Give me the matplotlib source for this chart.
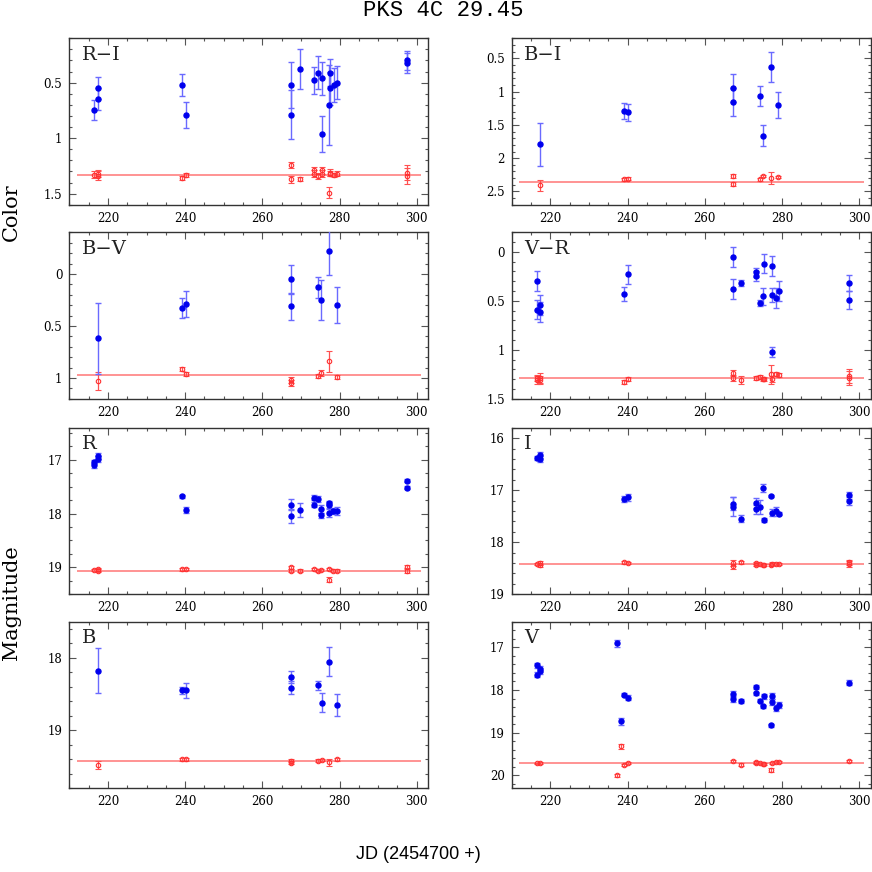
import numpy as np
import matplotlib
matplotlib.use('Agg')
import matplotlib.pyplot as plt
from matplotlib.ticker import MultipleLocator, FuncFormatter

# blazar (blue) and comparison star (red) values, JD - 2454700
ri_jd = [216.3, 217.4, 217.4, 239.2, 240.2, 267.5, 267.5, 269.7, 273.5, 274.5, 275.5, 275.5, 277.4, 277.5, 277.5, 278.5, 279.3, 297.6, 297.6]
ri_val = [0.75, 0.65, 0.55, 0.52, 0.79, 0.52, 0.79, 0.38, 0.48, 0.41, 0.46, 0.96, 0.70, 0.41, 0.55, 0.52, 0.50, 0.30, 0.32]
ri_err = [0.09, 0.1, 0.1, 0.1, 0.12, 0.21, 0.22, 0.18, 0.12, 0.15, 0.15, 0.16, 0.36, 0.12, 0.15, 0.15, 0.15, 0.09, 0.09]
ri_cjd = [216.3, 217.4, 217.4, 239.2, 240.2, 267.5, 267.5, 269.7, 273.5, 273.5, 274.5, 275.5, 275.5, 277.4, 277.5, 277.5, 278.5, 279.3, 297.6, 297.6]
ri_cval = [1.33, 1.32, 1.34, 1.36, 1.33, 1.24, 1.37, 1.37, 1.29, 1.32, 1.34, 1.29, 1.32, 1.49, 1.31, 1.32, 1.33, 1.32, 1.31, 1.34]
ri_cerr = [0.03, 0.03, 0.04, 0.02, 0.02, 0.03, 0.03, 0.02, 0.03, 0.03, 0.03, 0.03, 0.03, 0.05, 0.03, 0.02, 0.02, 0.02, 0.07, 0.07]
ri_mean = 1.332

bi_jd = [217.4, 239.1, 240.2, 267.3, 267.3, 274.4, 275.1, 277.2, 279.1]
bi_val = [1.79, 1.29, 1.31, 0.95, 1.15, 1.06, 1.66, 0.63, 1.20]
bi_err = [0.32, 0.12, 0.13, 0.21, 0.21, 0.15, 0.16, 0.23, 0.19]
bi_cjd = [217.4, 239.1, 240.2, 267.3, 267.3, 274.4, 275.1, 277.2, 279.1]
bi_cval = [2.41, 2.32, 2.31, 2.27, 2.39, 2.32, 2.27, 2.30, 2.285]
bi_cerr = [0.08, 0.02, 0.02, 0.03, 0.03, 0.02, 0.02, 0.09, 0.02]
bi_mean = 2.352

bv_jd = [217.4, 239.1, 240.2, 267.5, 267.5, 274.4, 275.3, 277.4, 279.3]
bv_val = [0.62, 0.33, 0.29, 0.05, 0.31, 0.13, 0.25, -0.22, 0.30]
bv_err = [0.34, 0.095, 0.125, 0.14, 0.13, 0.1, 0.19, 0.23, 0.17]
bv_cjd = [217.4, 239.1, 240.2, 267.5, 267.5, 274.4, 275.3, 277.4, 279.3]
bv_cval = [1.03, 0.91, 0.96, 1.02, 1.05, 0.98, 0.95, 0.84, 0.99]
bv_cerr = [0.09, 0.02, 0.02, 0.03, 0.03, 0.02, 0.03, 0.1, 0.02]
bv_mean = 0.975

vr_jd = [216.5, 216.5, 217.4, 217.4, 239.1, 240.2, 267.3, 267.3, 269.5, 273.4, 273.4, 274.4, 275.1, 275.3, 277.4, 277.4, 277.4, 278.4, 279.2, 297.4, 297.4]
vr_val = [0.30, 0.59, 0.545, 0.615, 0.43, 0.23, 0.05, 0.38, 0.32, 0.21, 0.25, 0.52, 0.455, 0.12, 0.145, 0.44, 1.02, 0.47, 0.40, 0.32, 0.49]
vr_err = [0.1, 0.1, 0.1, 0.1, 0.07, 0.1, 0.1, 0.1, 0.03, 0.05, 0.05, 0.03, 0.09, 0.1, 0.1, 0.07, 0.05, 0.1, 0.1, 0.08, 0.09]
vr_cjd = [216.5, 216.5, 217.4, 217.4, 239.1, 240.2, 267.3, 267.3, 269.5, 273.4, 274.4, 275.1, 275.3, 277.2, 277.4, 278.4, 279.2, 297.4, 297.4]
vr_cval = [1.29, 1.31, 1.29, 1.31, 1.33, 1.30, 1.24, 1.29, 1.31, 1.29, 1.28, 1.30, 1.30, 1.25, 1.30, 1.245, 1.255, 1.27, 1.29]
vr_cerr = [0.03, 0.04, 0.05, 0.04, 0.02, 0.02, 0.03, 0.03, 0.04, 0.02, 0.02, 0.02, 0.02, 0.1, 0.03, 0.02, 0.02, 0.07, 0.07]
vr_mean = 1.289

r_jd = [216.5, 216.5, 217.4, 217.4, 239.1, 240.2, 267.5, 267.5, 269.7, 273.5, 273.5, 274.4, 275.3, 275.3, 277.4, 277.4, 277.4, 278.3, 279.3, 297.6, 297.6]
r_val = [17.04, 17.10, 16.93, 16.98, 17.68, 17.93, 17.83, 18.04, 17.93, 17.70, 17.83, 17.73, 17.91, 18.03, 17.80, 17.84, 17.99, 17.95, 17.95, 17.39, 17.52]
r_err = [0.04, 0.05, 0.05, 0.05, 0.03, 0.06, 0.1, 0.13, 0.13, 0.05, 0.05, 0.05, 0.08, 0.05, 0.04, 0.05, 0.07, 0.06, 0.08, 0.03, 0.03]
r_cjd = [216.5, 217.4, 217.4, 239.1, 240.2, 267.5, 267.5, 269.7, 273.5, 274.4, 275.3, 277.4, 277.4, 278.3, 279.3, 297.6, 297.6]
r_cval = [19.05, 19.04, 19.06, 19.04, 19.03, 19.0, 19.06, 19.06, 19.03, 19.07, 19.05, 19.03, 19.23, 19.06, 19.06, 19.0, 19.06]
r_cerr = [0.02, 0.03, 0.03, 0.02, 0.02, 0.03, 0.03, 0.02, 0.02, 0.02, 0.02, 0.02, 0.05, 0.02, 0.02, 0.04, 0.04]
r_mean = 19.06

i_jd = [216.5, 217.4, 217.4, 239.1, 240.2, 267.3, 267.3, 269.5, 273.4, 273.4, 274.4, 275.1, 275.3, 277.2, 277.4, 278.4, 279.2, 297.4, 297.4]
i_val = [16.38, 16.40, 16.33, 17.17, 17.14, 17.26, 17.32, 17.55, 17.25, 17.37, 17.32, 16.96, 17.58, 17.12, 17.43, 17.41, 17.45, 17.10, 17.21]
i_err = [0.04, 0.06, 0.06, 0.06, 0.06, 0.13, 0.18, 0.07, 0.1, 0.08, 0.13, 0.07, 0.04, 0.02, 0.06, 0.08, 0.03, 0.07, 0.07]
i_cjd = [216.5, 217.4, 217.4, 239.1, 240.2, 267.3, 267.3, 269.5, 273.4, 273.4, 274.4, 275.1, 275.3, 277.2, 277.4, 278.4, 279.2, 297.4, 297.4]
i_cval = [18.42, 18.40, 18.44, 18.39, 18.40, 18.40, 18.46, 18.39, 18.40, 18.44, 18.42, 18.43, 18.44, 18.44, 18.41, 18.42, 18.42, 18.39, 18.42]
i_cerr = [0.02, 0.03, 0.03, 0.02, 0.02, 0.05, 0.05, 0.02, 0.02, 0.02, 0.02, 0.02, 0.02, 0.02, 0.02, 0.02, 0.02, 0.05, 0.05]
i_mean = 18.41

b_jd = [217.4, 239.2, 240.2, 267.5, 267.5, 274.5, 275.4, 277.4, 279.3]
b_val = [18.18, 18.45, 18.45, 18.26, 18.41, 18.38, 18.62, 18.05, 18.65]
b_err = [0.31, 0.05, 0.1, 0.08, 0.09, 0.06, 0.13, 0.2, 0.15]
b_cjd = [217.4, 239.2, 240.2, 267.5, 267.5, 274.5, 275.4, 277.4, 279.3]
b_cval = [19.48, 19.40, 19.40, 19.42, 19.45, 19.42, 19.41, 19.44, 19.40]
b_cerr = [0.05, 0.02, 0.02, 0.02, 0.02, 0.02, 0.02, 0.05, 0.02]
b_mean = 19.43

v_jd = [216.5, 216.5, 217.4, 217.4, 237.4, 238.4, 239.1, 240.2, 267.3, 267.3, 269.5, 273.4, 273.4, 274.4, 275.1, 275.3, 277.2, 277.4, 277.4, 278.4, 279.2, 297.4]
v_val = [17.42, 17.64, 17.51, 17.56, 16.91, 18.73, 18.11, 18.18, 18.09, 18.21, 18.25, 17.93, 18.08, 18.25, 18.38, 18.15, 18.83, 18.14, 18.28, 18.42, 18.35, 17.83]
v_err = [0.06, 0.06, 0.07, 0.07, 0.08, 0.08, 0.04, 0.06, 0.07, 0.08, 0.05, 0.04, 0.04, 0.04, 0.04, 0.05, 0.03, 0.07, 0.07, 0.06, 0.07, 0.06]
v_cjd = [216.5, 217.4, 237.4, 238.4, 239.1, 240.2, 267.3, 269.5, 273.4, 273.4, 274.4, 275.1, 275.3, 277.2, 277.4, 278.4, 279.2, 297.4]
v_cval = [19.72, 19.71, 20.0, 19.32, 19.75, 19.71, 19.67, 19.75, 19.69, 19.72, 19.71, 19.73, 19.73, 19.87, 19.71, 19.68, 19.68, 19.66]
v_cerr = [0.02, 0.02, 0.03, 0.06, 0.02, 0.02, 0.02, 0.03, 0.02, 0.02, 0.02, 0.02, 0.02, 0.05, 0.02, 0.02, 0.02, 0.02]
v_mean = 19.71

# (label, data, y limits, major, minor, column, row)
panels = [
    ('R\u2212I', (ri_jd, ri_val, ri_err, ri_cjd, ri_cval, ri_cerr, ri_mean), (1.6, 0.1), 0.5, 0.1, 0, 0),
    ('B\u2212I', (bi_jd, bi_val, bi_err, bi_cjd, bi_cval, bi_cerr, bi_mean), (2.7, 0.2), 0.5, 0.1, 1, 0),
    ('B\u2212V', (bv_jd, bv_val, bv_err, bv_cjd, bv_cval, bv_cerr, bv_mean), (1.2, -0.4), 0.5, 0.1, 0, 1),
    ('V\u2212R', (vr_jd, vr_val, vr_err, vr_cjd, vr_cval, vr_cerr, vr_mean), (1.5, -0.2), 0.5, 0.1, 1, 1),
    ('R', (r_jd, r_val, r_err, r_cjd, r_cval, r_cerr, r_mean), (19.5, 16.4), 1, 0.25, 0, 2),
    ('I', (i_jd, i_val, i_err, i_cjd, i_cval, i_cerr, i_mean), (19.0, 15.8), 1, 0.2, 1, 2),
    ('B', (b_jd, b_val, b_err, b_cjd, b_cval, b_cerr, b_mean), (19.8, 17.5), 1, 0.2, 0, 3),
    ('V', (v_jd, v_val, v_err, v_cjd, v_cval, v_cerr, v_mean), (20.3, 16.4), 1, 0.2, 1, 3),
]

serif = 'DejaVu Serif'
fig = plt.figure(figsize=(8.72, 8.72), dpi=100)

lefts = [69.3 / 872, 511.7 / 872]
width = 359 / 872
tops = [38.3, 232.3, 427.7, 621.7]
height = 166.5 / 872

fmt = FuncFormatter(lambda v, p: '%g' % round(v, 3))

for label, d, ylim, major, minor, col, row in panels:
    jd, val, err, cjd, cval, cerr, mean = d
    ax = fig.add_axes([lefts[col], 1 - (tops[row] + 166.5) / 872, width, height])
    ax.hlines(mean, 212, 301.2, color='#ff6060', lw=1.2, alpha=0.8, zorder=1)
    ax.errorbar(cjd, cval, yerr=cerr, fmt='o', ms=3.2, mfc='none', mec='#ff3030', mew=0.8,
                ecolor='#ff5050', elinewidth=0.9, capsize=2, capthick=0.9, zorder=2)
    ax.errorbar(jd, val, yerr=err, fmt='o', ms=3.6, mfc='#0000ee', mec='#0000ee',
                ecolor='#6a6aff', elinewidth=1.0, capsize=2, capthick=1.0, zorder=3)
    ax.set_xlim(210, 303)
    ax.set_ylim(*ylim)
    ax.xaxis.set_major_locator(MultipleLocator(20))
    ax.xaxis.set_minor_locator(MultipleLocator(5))
    ax.yaxis.set_major_locator(MultipleLocator(major))
    ax.yaxis.set_minor_locator(MultipleLocator(minor))
    ax.yaxis.set_major_formatter(fmt)
    ax.tick_params(which='both', direction='in', top=True, right=True, color='#555555')
    ax.tick_params(which='major', length=5, width=0.8, labelsize=8.5, pad=5)
    ax.tick_params(which='minor', length=2.5, width=0.8)
    for t in ax.get_xticklabels() + ax.get_yticklabels():
        t.set_fontfamily(serif)
    for s in ax.spines.values():
        s.set_color('#333333')
        s.set_linewidth(1.0)
    ax.text(0.035, 0.955, label, transform=ax.transAxes, ha='left', va='top',
            fontsize=14, family=serif, color='#222222')

fig.text(443 / 872, 1 - 11 / 872, 'PKS 4C 29.45', ha='center', va='center',
         fontsize=16, family='Liberation Mono')
fig.text(11 / 872, 1 - 212 / 872, 'Color', rotation=90, ha='center', va='center',
         fontsize=15, family=serif)
fig.text(11 / 872, 1 - 603 / 872, 'Magnitude', rotation=90, ha='center', va='center',
         fontsize=15, family=serif)
fig.text(418 / 872, 1 - 854 / 872, 'JD (2454700 +)', ha='center', va='center',
         fontsize=13, family='Liberation Sans')

fig.savefig('out.png', dpi=100)
